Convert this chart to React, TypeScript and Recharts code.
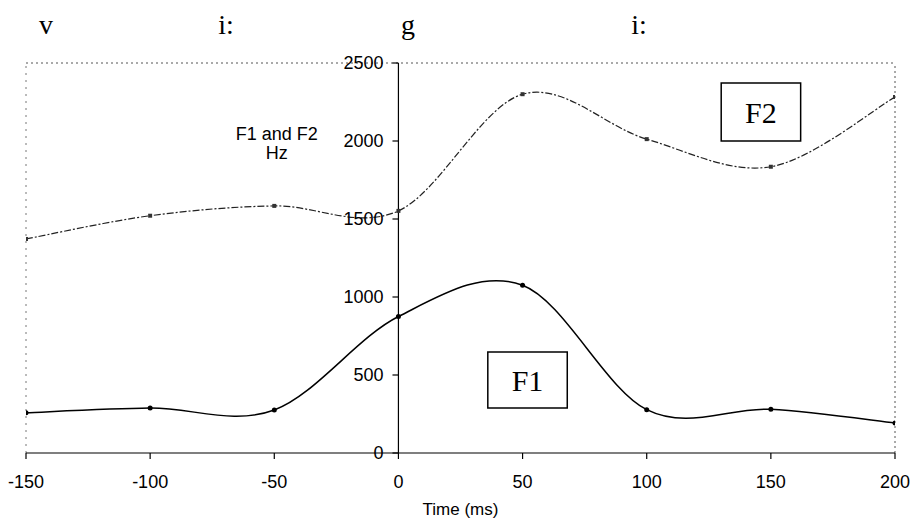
import React from 'react';
import { LineChart, Line, XAxis, YAxis, ReferenceLine, ReferenceArea, Label } from 'recharts';

const times = [-150, -100, -50, 0, 50, 100, 150, 200];
const f1Values = [258, 288, 276, 875, 1075, 278, 280, 192];
const f2Values = [1372, 1521, 1584, 1552, 2300, 2012, 1835, 2282];
const xTicks = [-150, -100, -50, 0, 50, 100, 150, 200];
const yTicks = [0, 500, 1000, 1500, 2000, 2500];
const phonemes = [
  { text: 'v', left: 46 },
  { text: 'i:', left: 226 },
  { text: 'g', left: 408 },
  { text: 'i:', left: 639 },
];

const data = times.map((t, i) => ({ t, f1: f1Values[i], f2: f2Values[i] }));

const SANS = '"Liberation Sans", Arial, sans-serif';
const SERIF = '"Liberation Serif", "Times New Roman", serif';

// Excel-like smoothed line (Catmull-Rom through the points)
function excelCurve(context: any) {
  let pts: number[][] = [];
  return {
    areaStart() {},
    areaEnd() {},
    lineStart() {
      pts = [];
    },
    point(x: number, y: number) {
      pts.push([+x, +y]);
    },
    lineEnd() {
      const n = pts.length;
      if (!n) return;
      context.moveTo(pts[0][0], pts[0][1]);
      for (let i = 0; i < n - 1; i++) {
        const p0 = pts[Math.max(i - 1, 0)];
        const p1 = pts[i];
        const p2 = pts[i + 1];
        const p3 = pts[Math.min(i + 2, n - 1)];
        context.bezierCurveTo(
          p1[0] + (p2[0] - p0[0]) / 6,
          p1[1] + (p2[1] - p0[1]) / 6,
          p2[0] - (p3[0] - p1[0]) / 6,
          p2[1] - (p3[1] - p1[1]) / 6,
          p2[0],
          p2[1]
        );
      }
    },
  };
}

const SquareDot = (props: any) => {
  const { cx, cy } = props;
  if (cx == null || cy == null) return null;
  return <rect x={cx - 2} y={cy - 2} width={4} height={4} fill="#333" />;
};

const RoundDot = (props: any) => {
  const { cx, cy } = props;
  if (cx == null || cy == null) return null;
  return <circle cx={cx} cy={cy} r={2.5} fill="#000" />;
};

export default function App() {
  return (
    <div style={{ position: 'absolute', left: 0, top: 0, width: 915, height: 523, background: '#fff' }}>
      {phonemes.map((p, i) => (
        <span
          key={i}
          style={{
            position: 'absolute',
            left: p.left,
            top: 25,
            transform: 'translate(-50%, -50%)',
            fontFamily: SERIF,
            fontSize: 28,
            lineHeight: 1,
            color: '#000',
          }}
        >
          {p.text}
        </span>
      ))}
      <LineChart
        width={915}
        height={523}
        data={data}
        margin={{ top: 63, right: 20, left: 26, bottom: 0 }}
      >
        <XAxis
          dataKey="t"
          type="number"
          domain={[-150, 200]}
          ticks={xTicks}
          allowDataOverflow
          height={70}
          stroke="#000"
          strokeWidth={1.2}
          tickSize={6}
          tickMargin={16}
          tick={{ fill: '#000', fontSize: 18, fontFamily: SANS }}
        >
          <Label
            value="Time (ms)"
            position="insideBottom"
            offset={8}
            style={{ fill: '#000', fontSize: 17, fontFamily: SANS }}
          />
        </XAxis>
        <YAxis type="number" domain={[0, 2500]} ticks={yTicks} hide />

        <ReferenceLine y={2500} stroke="#555" strokeDasharray="2 3" />
        <ReferenceLine x={-150} stroke="#777" strokeDasharray="2 5" />
        <ReferenceLine x={200} stroke="#555" strokeDasharray="2 3" />
        <ReferenceLine x={0} stroke="#000" strokeWidth={1.2} />
        {yTicks.map((v) => (
          <ReferenceLine
            key={v}
            segment={[
              { x: -2.4, y: v },
              { x: 0, y: v },
            ]}
            stroke="#000"
            strokeWidth={1.2}
            label={{
              value: String(v),
              position: 'left',
              offset: 9,
              fill: '#000',
              fontSize: 18,
              fontFamily: SANS,
            }}
          />
        ))}

        <ReferenceArea
          x1={130}
          x2={162}
          y1={2000}
          y2={2372}
          fill="#fff"
          fillOpacity={1}
          stroke="#000"
          strokeWidth={1.5}
          label={{ value: 'F2', position: 'center', fill: '#000', fontSize: 30, fontFamily: SERIF }}
        />
        <ReferenceArea
          x1={36}
          x2={68}
          y1={288}
          y2={647}
          fill="#fff"
          fillOpacity={1}
          stroke="#000"
          strokeWidth={1.5}
          label={{ value: 'F1', position: 'center', fill: '#000', fontSize: 30, fontFamily: SERIF }}
        />
        <ReferenceLine
          segment={[
            { x: -49, y: 2045 },
            { x: -49, y: 2045 },
          ]}
          stroke="none"
          label={{
            value: 'F1 and F2',
            position: 'center',
            fill: '#000',
            fontSize: 18,
            fontFamily: SANS,
          }}
        />
        <ReferenceLine
          segment={[
            { x: -49, y: 1923 },
            { x: -49, y: 1923 },
          ]}
          stroke="none"
          label={{
            value: 'Hz',
            position: 'center',
            fill: '#000',
            fontSize: 18,
            fontFamily: SANS,
          }}
        />

        <Line
          dataKey="f2"
          type={excelCurve as any}
          stroke="#222"
          strokeWidth={1.2}
          strokeDasharray="7 2 2 2"
          dot={<SquareDot />}
          activeDot={false}
          isAnimationActive={false}
        />
        <Line
          dataKey="f1"
          type={excelCurve as any}
          stroke="#000"
          strokeWidth={1.5}
          dot={<RoundDot />}
          activeDot={false}
          isAnimationActive={false}
        />
      </LineChart>
    </div>
  );
}
